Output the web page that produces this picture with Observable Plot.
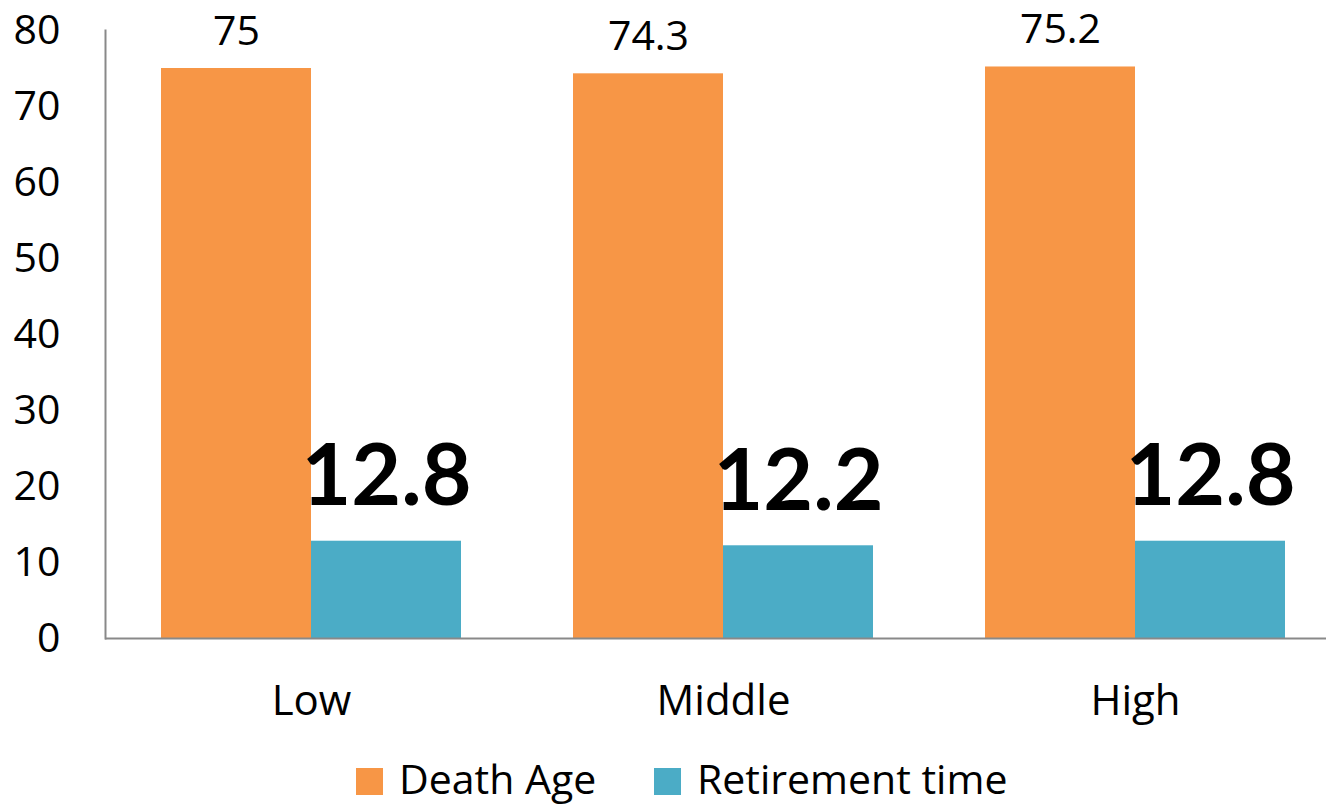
<!DOCTYPE html>
<html>
<head>
<meta charset="utf-8">
<script src="https://cdn.jsdelivr.net/npm/d3@7"></script>
<script src="https://cdn.jsdelivr.net/npm/@observablehq/plot@0.6"></script>
<style>
  html, body { margin: 0; padding: 0; background: #fff; overflow: hidden; }
  #chart { position: relative; width: 1326px; height: 805px; font-family: "Open Sans", Lato, sans-serif; color: #000; }
  #chart svg { position: absolute; left: 0; top: 0; overflow: visible; }
  .legend-item { position: absolute; top: 756px; height: 44px; line-height: 44px; font-size: 41px; white-space: nowrap; }
  .swatch { position: absolute; top: 12px; width: 27px; height: 27px; }
  .legend-label { position: absolute; white-space: nowrap; }
</style>
</head>
<body>
<div id="chart"></div>
<script>
// Income groups and the two measured series
const groups = ["Low", "Middle", "High"];
const series = ["Death Age", "Retirement time"];
const deathAge = [75, 74.3, 75.2];
const retirementTime = [12.8, 12.2, 12.8];
const seriesColors = ["#F79646", "#4BACC6"];
const yTicks = [0, 10, 20, 30, 40, 50, 60, 70, 80];

const rows = groups.flatMap((g, i) => [
  {group: g, series: series[0], value: deathAge[i]},
  {group: g, series: series[1], value: retirementTime[i]}
]);

const axisGray = "#898989";

const chart = Plot.plot({
  width: 1326,
  height: 745,
  marginTop: 30,
  marginBottom: 107,
  marginLeft: 105,
  marginRight: 0,
  style: {fontFamily: "'Open Sans', Lato, sans-serif", background: "transparent", color: "#000"},
  fx: {domain: groups, range: [105, 1341], padding: 0, label: null},
  x: {domain: series, paddingInner: 0, paddingOuter: 0.373, axis: null},
  y: {domain: [0, 80], label: null},
  color: {domain: series, range: seriesColors},
  marks: [
    Plot.barY(rows, {fx: "group", x: "series", y: "value", fill: "series"}),
    Plot.ruleY([0], {stroke: axisGray, strokeWidth: 2}),
    Plot.frame({anchor: "left", stroke: axisGray, strokeWidth: 2, facetAnchor: "left"}),
    Plot.axisY({ticks: yTicks, tickSize: 0, tickPadding: 45, fontSize: 41, tickFormat: d => String(d), label: null}),
    Plot.axisFx({anchor: "bottom", tickSize: 0, tickPadding: 47, fontSize: 42, label: null}),
    Plot.text(rows.filter(d => d.series === series[0]), {
      fx: "group", x: "series", y: "value", text: d => String(d.value),
      lineAnchor: "bottom", dy: -24, fontSize: 41, fill: "#000"
    }),
    Plot.text(rows.filter(d => d.series === series[1]), {
      fx: "group", x: "series", y: "value", text: d => String(d.value),
      lineAnchor: "bottom", dy: -36, fontSize: 86, fontWeight: "bold", fill: "#000",
      fontFamily: "Lato, 'Open Sans', sans-serif"
    })
  ]
});

const root = document.getElementById("chart");
root.appendChild(chart);

// Legend below the plot
const legendPos = [{swatch: 356, label: 399}, {swatch: 654, label: 697}];
series.forEach((name, i) => {
  const item = document.createElement("div");
  item.className = "legend-item";
  item.style.left = "0px";
  const sw = document.createElement("div");
  sw.className = "swatch";
  sw.style.left = legendPos[i].swatch + "px";
  sw.style.background = seriesColors[i];
  const lab = document.createElement("div");
  lab.className = "legend-label";
  lab.style.left = legendPos[i].label + "px";
  lab.textContent = name;
  item.appendChild(sw);
  item.appendChild(lab);
  root.appendChild(item);
});
</script>
</body>
</html>
